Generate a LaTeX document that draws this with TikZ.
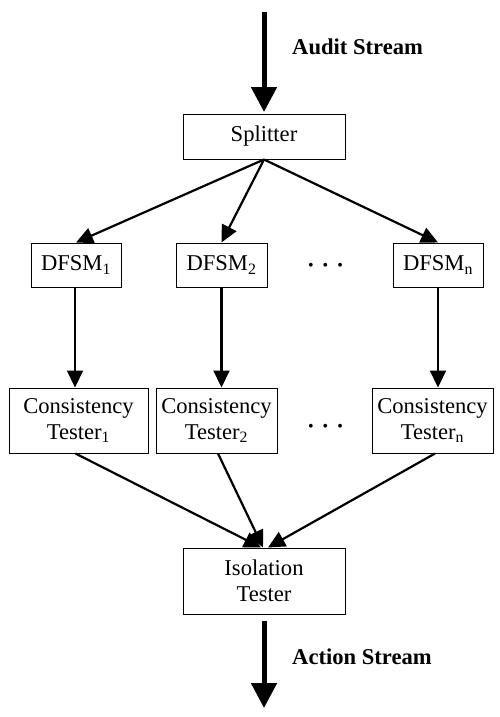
\documentclass[tikz,border=0pt]{standalone}
\usepackage{fontspec}
\setmainfont{Liberation Serif}
\usetikzlibrary{arrows.meta}
\begin{document}
\begin{tikzpicture}[x=1pt,y=-1pt,
  box/.style={draw,line width=1pt,inner sep=0pt,align=center,font=\fontsize{22.6}{25.5}\selectfont},
  thin/.style={line width=2.2pt,-{Triangle[length=17pt,width=16pt]}},
  thick/.style={line width=5pt,-{Triangle[length=25pt,width=25pt]}},
  lbl/.style={anchor=west,inner sep=0pt,font=\fontsize{22.6}{25.5}\selectfont\bfseries},
  dotsnode/.style={inner sep=0pt,font=\fontsize{16}{18}\selectfont}]
\useasboundingbox (0,0) rectangle (499,717);
% boxes
\node[box,minimum width=162pt,minimum height=45pt] (split) at (264,136.5) {Splitter};
\node[box,minimum width=90pt,minimum height=44pt] (d1) at (76,265) {DFSM\textsubscript{1}};
\node[box,minimum width=91pt,minimum height=44pt] (d2) at (221.5,265) {DFSM\textsubscript{2}};
\node[box,minimum width=90pt,minimum height=44pt] (dn) at (438,265) {DFSM\textsubscript{n}};
\node[dotsnode] (dots1) at (325.5,267) {\textbullet\hspace{9pt}\textbullet\hspace{9pt}\textbullet};
\node[box,minimum width=139pt,minimum height=65pt] (c1) at (78.5,420.5) {Consistency\\Tester\textsubscript{1}};
\node[box,minimum width=121pt,minimum height=65pt] (c2) at (216.5,420.5) {Consistency\\Tester\textsubscript{2}};
\node[box,minimum width=121pt,minimum height=65pt] (cn) at (432.5,420.5) {Consistency\\Tester\textsubscript{n}};
\node[dotsnode] (dots2) at (325.5,428) {\textbullet\hspace{9pt}\textbullet\hspace{9pt}\textbullet};
\node[box,minimum width=162pt,minimum height=66pt] (iso) at (264,581) {Isolation\\Tester};
% labels
\node[lbl] (audit) at (292,47) {Audit Stream};
\node[lbl] (action) at (292,657) {Action Stream};
% coordinates
\coordinate (audtop) at (264,12);
\coordinate (actend) at (264,708);
% arrows
\draw[thick] (audtop) -- ([yshift=1.5pt]split.north);
\draw[thin] (split.south) -- (d1.north);
\draw[thin] (split.south) -- (d2.north);
\draw[thin] (split.south) -- (dn.north);
\draw[thin] ([xshift=-1pt]d1.south) -- ([xshift=-1pt]d1.south |- c1.north);
\draw[thin] (d2.south) -- (d2.south |- c2.north);
\draw[thin] (dn.south) -- (dn.south |- cn.north);
\draw[thin] ([xshift=-3pt]c1.south) -- ([xshift=-3pt]iso.north);
\draw[thin] ([xshift=1.5pt]c2.south) -- ([xshift=-1pt]iso.north);
\draw[thin] ([xshift=2.5pt]cn.south) -- ([xshift=4pt]iso.north);
\draw[thick] ([yshift=-6pt]iso.south) -- (actend);
\end{tikzpicture}
\end{document}
